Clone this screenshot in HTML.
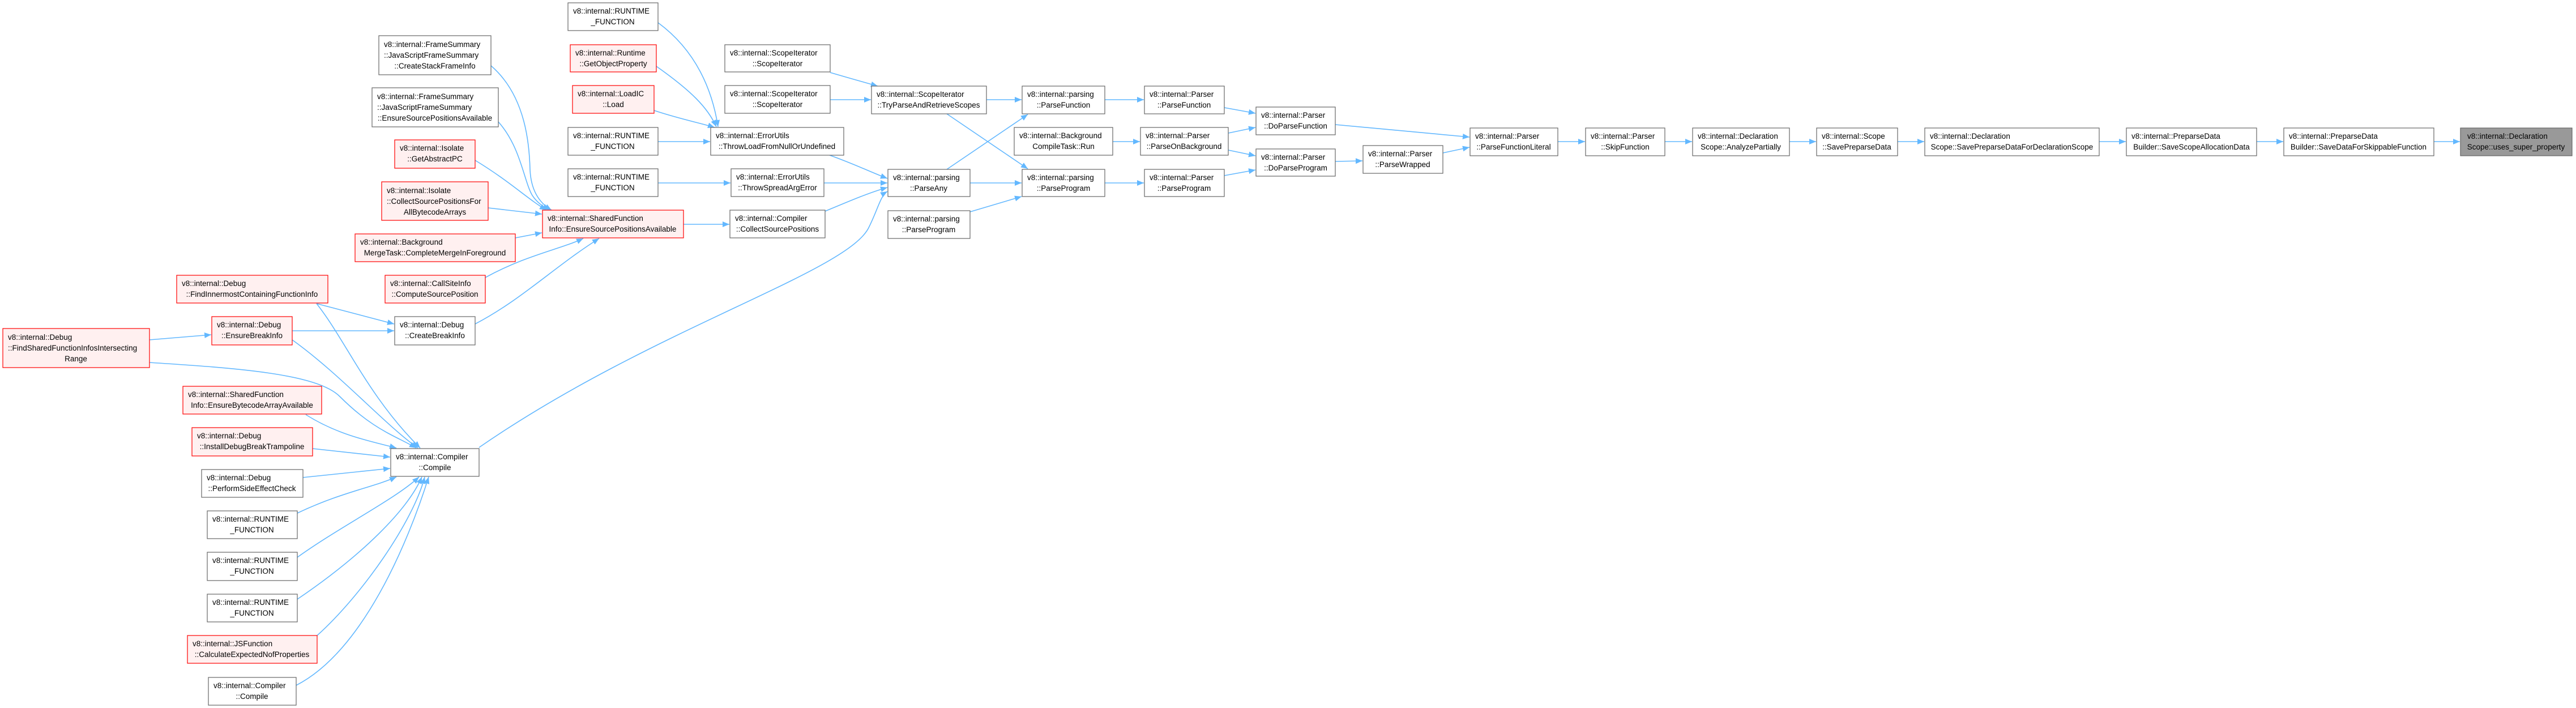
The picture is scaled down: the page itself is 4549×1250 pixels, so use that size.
<!DOCTYPE html>
<html><head><meta charset="utf-8"><style>
html,body{margin:0;padding:0;background:#fff;}
svg{display:block;}
text{font-family:"Liberation Sans",sans-serif;font-size:13.5px;fill:#000;}
.w{fill:#fff;stroke:#666;stroke-width:1.2;}
.r{fill:#fff0f0;stroke:#f00;stroke-width:1.2;}
.g{fill:#999;stroke:#666;stroke-width:1.2;}
.e{fill:none;stroke:#63b8ff;stroke-width:1.6;marker-end:url(#a);}
</style></head><body>
<svg width="4549" height="1250" viewBox="0 0 4549 1250" xmlns="http://www.w3.org/2000/svg">
<defs><marker id="a" markerUnits="userSpaceOnUse" markerWidth="14" markerHeight="12" refX="12" refY="5" orient="auto"><path d="M0,0 L12,5 L0,10 z" fill="#63b8ff"/></marker></defs>

<!-- edges -->
<g>
<path class="e" d="M1162,40 C1230,90 1258,160 1268,224"/>
<path class="e" d="M1159,117 C1220,160 1250,190 1265,224"/>
<path class="e" d="M1155,195 C1200,210 1240,218 1262,225"/>
<path class="e" d="M1162,250 L1254,250"/>
<path class="e" d="M1162,323 L1290,323"/>
<path class="e" d="M1465,274 C1510,290 1540,305 1567,315"/>
<path class="e" d="M1455,323 L1567,323"/>
<path class="e" d="M1457,373 C1500,355 1535,340 1567,331"/>
<path class="e" d="M846,790 C1150,580 1500,480 1535,400 C1550,370 1555,345 1567,338"/>
<path class="e" d="M1466,128 C1500,138 1525,145 1550,152"/>
<path class="e" d="M1466,176 L1538,176"/>
<path class="e" d="M1207,396 L1288,396"/>
<path class="e" d="M867,116 C930,170 935,260 936,300 C938,340 955,360 974,371"/>
<path class="e" d="M880,215 C920,260 925,320 940,345 C950,360 962,366 970,371"/>
<path class="e" d="M839,283 C900,320 930,350 965,371"/>
<path class="e" d="M862,367 L957,378"/>
<path class="e" d="M910,420 L957,411"/>
<path class="e" d="M857,490 C930,450 990,440 1030,421"/>
<path class="e" d="M839,572 C920,530 980,470 1058,421"/>
<path class="e" d="M559,536 L696,572"/>
<path class="e" d="M516,584 L696,584"/>
<path class="e" d="M264,600 L373,591"/>
<path class="e" d="M559,536 C610,600 650,700 742,791"/>
<path class="e" d="M516,600 C600,660 680,750 738,791"/>
<path class="e" d="M264,640 C420,650 560,660 600,700 C660,760 700,770 735,791"/>
<path class="e" d="M540,732 C600,770 660,780 700,791"/>
<path class="e" d="M552,792 L689,807"/>
<path class="e" d="M535,843 L689,827"/>
<path class="e" d="M525,906 C600,870 660,860 700,842"/>
<path class="e" d="M525,984 C600,930 700,880 740,842"/>
<path class="e" d="M525,1058 C640,980 720,900 745,842"/>
<path class="e" d="M560,1122 C640,1050 730,920 750,842"/>
<path class="e" d="M523,1210 C640,1150 720,960 757,842"/>
<path class="e" d="M1742,176 L1804,176"/>
<path class="e" d="M1672,201 L1815,298"/>
<path class="e" d="M1672,299 L1815,202"/>
<path class="e" d="M1713,323 L1804,323"/>
<path class="e" d="M1713,374 L1804,347"/>
<path class="e" d="M1951,176 L2020,176"/>
<path class="e" d="M2162,190 L2217,200"/>
<path class="e" d="M1965,250 L2013,250"/>
<path class="e" d="M2169,235 L2217,225"/>
<path class="e" d="M2169,265 L2217,275"/>
<path class="e" d="M1951,323 L2020,323"/>
<path class="e" d="M2162,310 L2217,300"/>
<path class="e" d="M2358,220 L2595,242"/>
<path class="e" d="M2358,285 L2406,284"/>
<path class="e" d="M2548,270 L2595,260"/>
<path class="e" d="M2751,250 L2799,250"/>
<path class="e" d="M2940,250 L2988,250"/>
<path class="e" d="M3160,250 L3207,250"/>
<path class="e" d="M3351,250 L3398,250"/>
<path class="e" d="M3707,250 L3754,250"/>
<path class="e" d="M3985,250 L4032,250"/>
<path class="e" d="M4298,250 L4344,250"/>
</g>

<!-- nodes -->
<rect class="w" x="1003" y="5" width="159" height="49"/><text x="1012" y="24">v8::internal::RUNTIME</text><text x="1082" y="43" text-anchor="middle">_FUNCTION</text>
<rect class="w" x="669" y="63" width="198" height="69"/><text x="678" y="83">v8::internal::FrameSummary</text><text x="678" y="102">::JavaScriptFrameSummary</text><text x="768" y="121" text-anchor="middle">::CreateStackFrameInfo</text>
<rect class="r" x="1007" y="79" width="152" height="48"/><text x="1016" y="98">v8::internal::Runtime</text><text x="1083" y="117" text-anchor="middle">::GetObjectProperty</text>
<rect class="w" x="1280" y="79" width="186" height="48"/><text x="1289" y="98">v8::internal::ScopeIterator</text><text x="1373" y="117" text-anchor="middle">::ScopeIterator</text>
<rect class="w" x="657" y="155" width="223" height="69"/><text x="666" y="175">v8::internal::FrameSummary</text><text x="666" y="194">::JavaScriptFrameSummary</text><text x="768" y="213" text-anchor="middle">::EnsureSourcePositionsAvailable</text>
<rect class="r" x="1011" y="151" width="144" height="49"/><text x="1020" y="170">v8::internal::LoadIC</text><text x="1083" y="189" text-anchor="middle">::Load</text>
<rect class="w" x="1280" y="151" width="186" height="49"/><text x="1289" y="170">v8::internal::ScopeIterator</text><text x="1373" y="189" text-anchor="middle">::ScopeIterator</text>
<rect class="w" x="1003" y="225" width="159" height="49"/><text x="1012" y="244">v8::internal::RUNTIME</text><text x="1082" y="263" text-anchor="middle">_FUNCTION</text>
<rect class="w" x="1255" y="225" width="235" height="49"/><text x="1264" y="244">v8::internal::ErrorUtils</text><text x="1372" y="263" text-anchor="middle">::ThrowLoadFromNullOrUndefined</text>
<rect class="r" x="697" y="247" width="142" height="50"/><text x="706" y="266">v8::internal::Isolate</text><text x="768" y="285" text-anchor="middle">::GetAbstractPC</text>
<rect class="w" x="1003" y="298" width="159" height="49"/><text x="1012" y="317">v8::internal::RUNTIME</text><text x="1082" y="336" text-anchor="middle">_FUNCTION</text>
<rect class="w" x="1291" y="298" width="164" height="49"/><text x="1300" y="317">v8::internal::ErrorUtils</text><text x="1373" y="336" text-anchor="middle">::ThrowSpreadArgError</text>
<rect class="r" x="674" y="321" width="188" height="68"/><text x="683" y="341">v8::internal::Isolate</text><text x="683" y="360">::CollectSourcePositionsFor</text><text x="768" y="379" text-anchor="middle">AllBytecodeArrays</text>
<rect class="r" x="958" y="371" width="249" height="49"/><text x="967" y="390">v8::internal::SharedFunction</text><text x="1082" y="409" text-anchor="middle">Info::EnsureSourcePositionsAvailable</text>
<rect class="w" x="1289" y="371" width="168" height="49"/><text x="1298" y="390">v8::internal::Compiler</text><text x="1373" y="409" text-anchor="middle">::CollectSourcePositions</text>
<rect class="r" x="627" y="413" width="283" height="49"/><text x="636" y="432">v8::internal::Background</text><text x="768" y="451" text-anchor="middle">MergeTask::CompleteMergeInForeground</text>
<rect class="r" x="312" y="486" width="267" height="49"/><text x="321" y="505">v8::internal::Debug</text><text x="445" y="524" text-anchor="middle">::FindInnermostContainingFunctionInfo</text>
<rect class="r" x="680" y="486" width="177" height="49"/><text x="689" y="505">v8::internal::CallSiteInfo</text><text x="768" y="524" text-anchor="middle">::ComputeSourcePosition</text>
<rect class="r" x="374" y="559" width="142" height="50"/><text x="383" y="578">v8::internal::Debug</text><text x="445" y="597" text-anchor="middle">::EnsureBreakInfo</text>
<rect class="w" x="697" y="559" width="142" height="50"/><text x="706" y="578">v8::internal::Debug</text><text x="768" y="597" text-anchor="middle">::CreateBreakInfo</text>
<rect class="r" x="5" y="580" width="259" height="69"/><text x="14" y="600">v8::internal::Debug</text><text x="14" y="619">::FindSharedFunctionInfosIntersecting</text><text x="134" y="638" text-anchor="middle">Range</text>
<rect class="r" x="323" y="682" width="245" height="49"/><text x="332" y="701">v8::internal::SharedFunction</text><text x="445" y="720" text-anchor="middle">Info::EnsureBytecodeArrayAvailable</text>
<rect class="r" x="339" y="755" width="213" height="50"/><text x="348" y="774">v8::internal::Debug</text><text x="445" y="793" text-anchor="middle">::InstallDebugBreakTrampoline</text>
<rect class="w" x="690" y="792" width="156" height="49"/><text x="699" y="811">v8::internal::Compiler</text><text x="768" y="830" text-anchor="middle">::Compile</text>
<rect class="w" x="356" y="829" width="179" height="49"/><text x="365" y="848">v8::internal::Debug</text><text x="445" y="867" text-anchor="middle">::PerformSideEffectCheck</text>
<rect class="w" x="366" y="902" width="159" height="49"/><text x="375" y="921">v8::internal::RUNTIME</text><text x="445" y="940" text-anchor="middle">_FUNCTION</text>
<rect class="w" x="366" y="975" width="159" height="50"/><text x="375" y="994">v8::internal::RUNTIME</text><text x="445" y="1013" text-anchor="middle">_FUNCTION</text>
<rect class="w" x="366" y="1049" width="159" height="49"/><text x="375" y="1068">v8::internal::RUNTIME</text><text x="445" y="1087" text-anchor="middle">_FUNCTION</text>
<rect class="r" x="331" y="1122" width="229" height="49"/><text x="340" y="1141">v8::internal::JSFunction</text><text x="445" y="1160" text-anchor="middle">::CalculateExpectedNofProperties</text>
<rect class="w" x="368" y="1196" width="155" height="49"/><text x="377" y="1215">v8::internal::Compiler</text><text x="445" y="1234" text-anchor="middle">::Compile</text>

<rect class="w" x="1539" y="152" width="203" height="49"/><text x="1548" y="171">v8::internal::ScopeIterator</text><text x="1640" y="190" text-anchor="middle">::TryParseAndRetrieveScopes</text>
<rect class="w" x="1805" y="152" width="146" height="49"/><text x="1814" y="171">v8::internal::parsing</text><text x="1878" y="190" text-anchor="middle">::ParseFunction</text>
<rect class="w" x="2021" y="152" width="141" height="49"/><text x="2030" y="171">v8::internal::Parser</text><text x="2091" y="190" text-anchor="middle">::ParseFunction</text>
<rect class="w" x="2218" y="189" width="140" height="49"/><text x="2227" y="208">v8::internal::Parser</text><text x="2288" y="227" text-anchor="middle">::DoParseFunction</text>
<rect class="w" x="1791" y="225" width="174" height="49"/><text x="1800" y="244">v8::internal::Background</text><text x="1878" y="263" text-anchor="middle">CompileTask::Run</text>
<rect class="w" x="2014" y="225" width="155" height="49"/><text x="2023" y="244">v8::internal::Parser</text><text x="2091" y="263" text-anchor="middle">::ParseOnBackground</text>
<rect class="w" x="2218" y="263" width="140" height="48"/><text x="2227" y="282">v8::internal::Parser</text><text x="2288" y="301" text-anchor="middle">::DoParseProgram</text>
<rect class="w" x="2407" y="257" width="141" height="49"/><text x="2416" y="276">v8::internal::Parser</text><text x="2477" y="295" text-anchor="middle">::ParseWrapped</text>
<rect class="w" x="2596" y="226" width="155" height="49"/><text x="2605" y="245">v8::internal::Parser</text><text x="2673" y="264" text-anchor="middle">::ParseFunctionLiteral</text>
<rect class="w" x="2800" y="226" width="140" height="49"/><text x="2809" y="245">v8::internal::Parser</text><text x="2870" y="264" text-anchor="middle">::SkipFunction</text>
<rect class="w" x="2989" y="226" width="171" height="49"/><text x="2998" y="245">v8::internal::Declaration</text><text x="3074" y="264" text-anchor="middle">Scope::AnalyzePartially</text>
<rect class="w" x="1568" y="299" width="145" height="48"/><text x="1577" y="318">v8::internal::parsing</text><text x="1640" y="337" text-anchor="middle">::ParseAny</text>
<rect class="w" x="1805" y="299" width="146" height="48"/><text x="1814" y="318">v8::internal::parsing</text><text x="1878" y="337" text-anchor="middle">::ParseProgram</text>
<rect class="w" x="2021" y="299" width="141" height="48"/><text x="2030" y="318">v8::internal::Parser</text><text x="2091" y="337" text-anchor="middle">::ParseProgram</text>
<rect class="w" x="1568" y="372" width="145" height="49"/><text x="1577" y="391">v8::internal::parsing</text><text x="1640" y="410" text-anchor="middle">::ParseProgram</text>
<rect class="w" x="3208" y="226" width="143" height="49"/><text x="3217" y="245">v8::internal::Scope</text><text x="3279" y="264" text-anchor="middle">::SavePreparseData</text>
<rect class="w" x="3399" y="226" width="308" height="49"/><text x="3408" y="245">v8::internal::Declaration</text><text x="3553" y="264" text-anchor="middle">Scope::SavePreparseDataForDeclarationScope</text>
<rect class="w" x="3755" y="226" width="230" height="49"/><text x="3764" y="245">v8::internal::PreparseData</text><text x="3870" y="264" text-anchor="middle">Builder::SaveScopeAllocationData</text>
<rect class="w" x="4033" y="226" width="265" height="49"/><text x="4042" y="245">v8::internal::PreparseData</text><text x="4165" y="264" text-anchor="middle">Builder::SaveDataForSkippableFunction</text>
<rect class="g" x="4345" y="226" width="197" height="49"/><text x="4357" y="245">v8::internal::Declaration</text><text x="4443" y="264" text-anchor="middle">Scope::uses_super_property</text>
</svg>
</body></html>
